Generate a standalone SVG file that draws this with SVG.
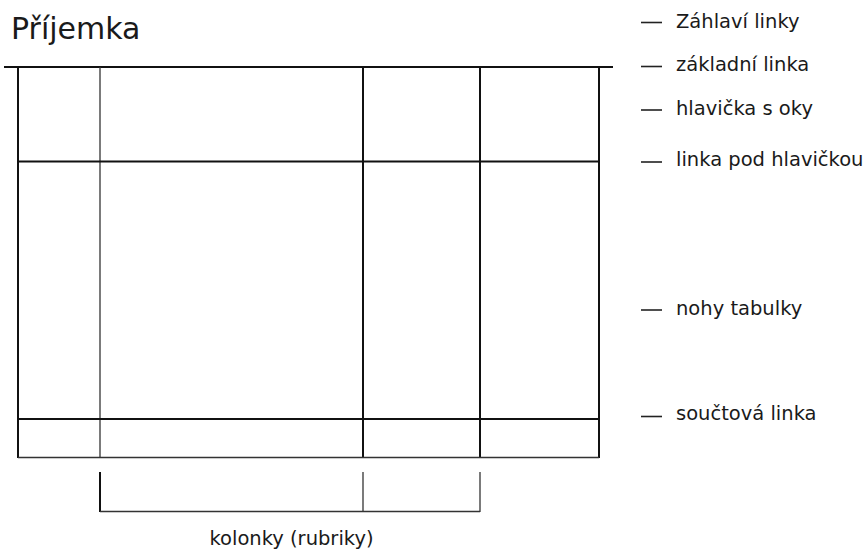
<svg xmlns="http://www.w3.org/2000/svg" width="866" height="550" viewBox="0 0 866 550">
  <style>
    text { font-family: "DejaVu Sans", "Liberation Sans", sans-serif; fill: #1a1a1a; }
    .title { font-size: 30px; }
    .lbl { font-size: 19.5px; }
    .thick { stroke: #111; stroke-width: 2; fill: none; }
    .thin { stroke: #333; stroke-width: 1.3; fill: none; }
    .dash { stroke: #222; stroke-width: 1.6; }
  </style>
  <rect width="866" height="550" fill="#fff"/>

  <g id="title">
    <text class="title" x="11" y="38.5">Příjemka</text>
  </g>

  <!-- table frame -->
  <g id="table">
    <line class="thick" x1="4" y1="67" x2="613" y2="67"/>
    <line class="thick" x1="18" y1="67" x2="18" y2="458"/>
    <line class="thin" x1="100" y1="67" x2="100" y2="458"/>
    <line class="thick" x1="363" y1="67" x2="363" y2="458"/>
    <line class="thick" x1="480" y1="67" x2="480" y2="458"/>
    <line class="thick" x1="599" y1="67" x2="599" y2="458"/>
    <line class="thick" x1="18" y1="161.5" x2="599" y2="161.5"/>
    <line class="thick" x1="18" y1="419" x2="599" y2="419"/>
    <line class="thin" x1="18" y1="457.5" x2="599" y2="457.5"/>
  </g>

  <!-- bracket under columns -->
  <g id="columns-bracket">
    <line class="thick" x1="100" y1="472" x2="100" y2="512"/>
    <line class="thin" x1="363" y1="472" x2="363" y2="512"/>
    <line class="thin" x1="480" y1="472" x2="480" y2="512"/>
    <line class="thin" x1="100" y1="511.5" x2="480" y2="511.5"/>
    <text class="lbl" x="291.5" y="545" text-anchor="middle">kolonky (rubriky)</text>
  </g>

  <!-- side labels -->
  <g id="labels">
    <g id="lbl-zahlavi">
      <line class="dash" x1="641" y1="22.5" x2="662" y2="22.5"/>
      <text class="lbl" x="676" y="27.5">Záhlaví linky</text>
    </g>
    <g id="lbl-zakladni">
      <line class="dash" x1="641" y1="66.5" x2="662" y2="66.5"/>
      <text class="lbl" x="676" y="71">základní linka</text>
    </g>
    <g id="lbl-hlavicka">
      <line class="dash" x1="641" y1="110" x2="662" y2="110"/>
      <text class="lbl" x="676" y="115">hlavička s oky</text>
    </g>
    <g id="lbl-pod-hlavickou">
      <line class="dash" x1="641" y1="162" x2="662" y2="162"/>
      <text class="lbl" x="676" y="166">linka pod hlavičkou</text>
    </g>
    <g id="lbl-nohy">
      <line class="dash" x1="641" y1="310" x2="662" y2="310"/>
      <text class="lbl" x="676" y="315">nohy tabulky</text>
    </g>
    <g id="lbl-soucet">
      <line class="dash" x1="641" y1="416.5" x2="662" y2="416.5"/>
      <text class="lbl" x="676" y="420">součtová linka</text>
    </g>
  </g>
</svg>
